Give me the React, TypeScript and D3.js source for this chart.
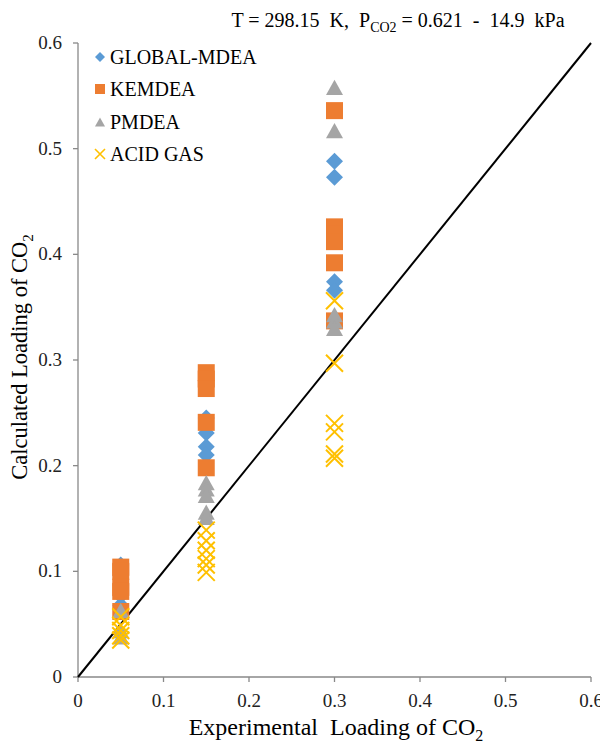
import React from "react";
import * as d3 from "d3";

const xTicks = [0, 0.1, 0.2, 0.3, 0.4, 0.5, 0.6];
const yTicks = [0, 0.1, 0.2, 0.3, 0.4, 0.5, 0.6];

const globalX = [0.05, 0.05, 0.05, 0.05, 0.05, 0.15, 0.15, 0.15, 0.15, 0.3, 0.3, 0.3, 0.3];
const globalY = [0.106, 0.096, 0.087, 0.077, 0.068, 0.245, 0.231, 0.218, 0.21, 0.488, 0.473, 0.374, 0.366];

const kemX = [0.05, 0.05, 0.05, 0.05, 0.05, 0.15, 0.15, 0.15, 0.15, 0.15, 0.3, 0.3, 0.3, 0.3, 0.3, 0.3];
const kemY = [0.104, 0.1, 0.085, 0.081, 0.062, 0.288, 0.282, 0.273, 0.241, 0.198, 0.536, 0.426, 0.419, 0.412, 0.392, 0.337];

const pmX = [0.05, 0.05, 0.05, 0.15, 0.15, 0.15, 0.15, 0.15, 0.3, 0.3, 0.3, 0.3, 0.3];
const pmY = [0.063, 0.044, 0.038, 0.184, 0.178, 0.172, 0.156, 0.151, 0.558, 0.517, 0.343, 0.337, 0.33];

const acidX = [0.05, 0.05, 0.05, 0.05, 0.05, 0.15, 0.15, 0.15, 0.15, 0.15, 0.15, 0.3, 0.3, 0.3, 0.3, 0.3, 0.3];
const acidY = [0.057, 0.049, 0.044, 0.039, 0.035, 0.139, 0.129, 0.12, 0.112, 0.106, 0.099, 0.356, 0.297, 0.24, 0.232, 0.211, 0.207];

const legendLabels = ["GLOBAL-MDEA", "KEMDEA", "PMDEA", "ACID GAS"];

const C_BLUE = "#5B9BD5";
const C_ORANGE = "#ED7D31";
const C_GRAY = "#A5A5A5";
const C_YELLOW = "#FFC000";
const AXIS = "#898989";
const FONT = "'Times New Roman', 'Liberation Serif', Times, serif";

function Diamond({ cx, cy, r }: { cx: number; cy: number; r: number }) {
  return <path d={`M${cx},${cy - r}L${cx + r},${cy}L${cx},${cy + r}L${cx - r},${cy}Z`} fill={C_BLUE} />;
}
function Square({ cx, cy, s }: { cx: number; cy: number; s: number }) {
  return <rect x={cx - s / 2} y={cy - s / 2} width={s} height={s} fill={C_ORANGE} />;
}
function Tri({ cx, cy, s }: { cx: number; cy: number; s: number }) {
  const h = s * 0.9;
  return <path d={`M${cx},${cy - h / 2}L${cx + s / 2},${cy + h / 2}L${cx - s / 2},${cy + h / 2}Z`} fill={C_GRAY} />;
}
function XMark({ cx, cy, r, w }: { cx: number; cy: number; r: number; w: number }) {
  return (
    <path d={`M${cx - r},${cy - r}L${cx + r},${cy + r}M${cx - r},${cy + r}L${cx + r},${cy - r}`} stroke={C_YELLOW} strokeWidth={w} fill="none" />
  );
}

export default function App() {
  const x = d3.scaleLinear().domain([0, 0.6]).range([78, 591]);
  const y = d3.scaleLinear().domain([0, 0.6]).range([677, 43]);
  const pre = { whiteSpace: "pre" as const };

  return (
    <svg width={600} height={744} style={{ position: "absolute", left: 0, top: 0, background: "#fff", fontFamily: FONT }}>
      <rect width={600} height={744} fill="#fff" />
      {/* title */}
      <text x={398} y={27} textAnchor="middle" fontSize={20} fill="#000" style={pre}>
        <tspan>T = 298.15  K,  P</tspan>
        <tspan fontSize={14} dy={5}>CO2</tspan>
        <tspan dy={-5}> = 0.621  -  14.9  kPa</tspan>
      </text>
      {/* axes */}
      <line x1={x(0)} x2={x(0.6)} y1={y(0)} y2={y(0)} stroke={AXIS} strokeWidth={1.3} />
      <line x1={x(0)} x2={x(0)} y1={y(0)} y2={y(0.6)} stroke={AXIS} strokeWidth={1.3} />
      {xTicks.map((t) => (
        <g key={"xt" + t}>
          <line x1={x(t)} x2={x(t)} y1={y(0)} y2={y(0) + 5} stroke={AXIS} strokeWidth={1.3} />
          <text x={x(t)} y={707} textAnchor="middle" fontSize={19} fill="#222">{String(t)}</text>
        </g>
      ))}
      {yTicks.map((t) => (
        <g key={"yt" + t}>
          <line x1={x(0) - 5} x2={x(0)} y1={y(t)} y2={y(t)} stroke={AXIS} strokeWidth={1.3} />
          <text x={62} y={y(t) + 6} textAnchor="end" fontSize={19} fill="#222">{String(t)}</text>
        </g>
      ))}
      {/* diagonal */}
      <line x1={x(0)} y1={y(0)} x2={x(0.6)} y2={y(0.6)} stroke="#000" strokeWidth={2} />
      {/* series */}
      {globalX.map((v, i) => <Diamond key={"g" + i} cx={x(v)} cy={y(globalY[i])} r={8.5} />)}
      {kemX.map((v, i) => <Square key={"k" + i} cx={x(v)} cy={y(kemY[i])} s={17} />)}
      {pmX.map((v, i) => <Tri key={"p" + i} cx={x(v)} cy={y(pmY[i])} s={17} />)}
      {acidX.map((v, i) => <XMark key={"a" + i} cx={x(v)} cy={y(acidY[i])} r={8.5} w={2} />)}
      {/* legend */}
      <Diamond cx={100} cy={57} r={5} />
      <Square cx={100} cy={89} s={10} />
      <Tri cx={100} cy={122} s={10} />
      <XMark cx={100} cy={154} r={5} w={1.6} />
      {legendLabels.map((l, i) => (
        <text key={l} x={110} y={64 + i * 32.3} fontSize={20} fill="#000">{l}</text>
      ))}
      {/* axis titles */}
      <text x={336} y={735} textAnchor="middle" fontSize={24} fill="#000" style={pre}>
        <tspan>Experimental  Loading of CO</tspan>
        <tspan fontSize={16} dy={6}>2</tspan>
      </text>
      <text transform={`translate(27,357) rotate(-90)`} textAnchor="middle" fontSize={22.5} fill="#000" style={pre}>
        <tspan>Calculated Loading of CO</tspan>
        <tspan fontSize={15} dy={6}>2</tspan>
      </text>
    </svg>
  );
}
